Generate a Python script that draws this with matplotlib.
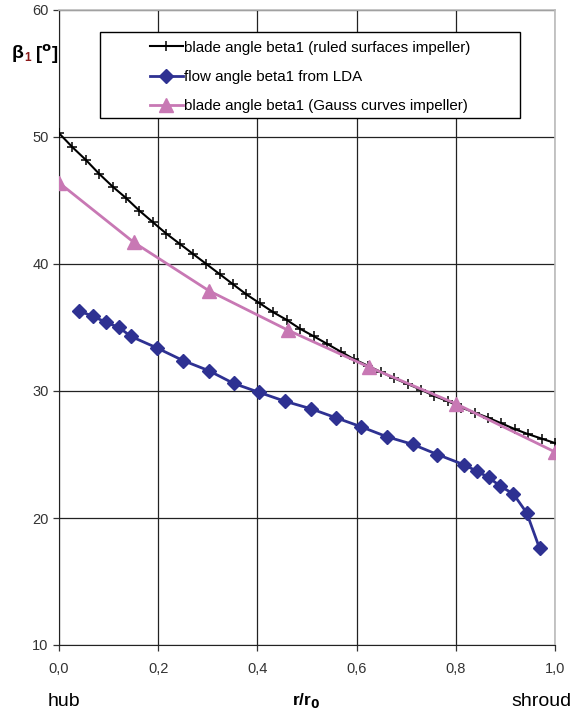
import matplotlib
matplotlib.use("Agg")
import matplotlib.pyplot as plt
from matplotlib.patches import Rectangle
from matplotlib.ticker import FuncFormatter

plt.rcParams['font.family'] = ['Liberation Sans', 'DejaVu Sans']

# ---- data ----
ruled_x = [0.000, 0.027, 0.054, 0.081, 0.108, 0.135, 0.162, 0.189, 0.216, 0.243,
           0.270, 0.297, 0.324, 0.351, 0.378, 0.405, 0.432, 0.459, 0.486, 0.514,
           0.541, 0.568, 0.595, 0.622, 0.649, 0.676, 0.703, 0.730, 0.757, 0.784,
           0.811, 0.838, 0.865, 0.892, 0.919, 0.946, 0.973, 1.000]
ruled_y = [50.3, 49.2, 48.2, 47.1, 46.1, 45.2, 44.2, 43.3, 42.4, 41.6,
           40.8, 40.0, 39.2, 38.4, 37.6, 36.9, 36.2, 35.6, 34.9, 34.3,
           33.7, 33.1, 32.5, 32.0, 31.5, 31.0, 30.55, 30.1, 29.6, 29.2,
           28.7, 28.3, 27.9, 27.45, 27.0, 26.6, 26.25, 25.9]

lda_x = [0.040, 0.068, 0.095, 0.121, 0.145, 0.197, 0.250, 0.302, 0.352, 0.403,
         0.455, 0.508, 0.558, 0.608, 0.661, 0.713, 0.763, 0.816, 0.842, 0.866,
         0.890, 0.916, 0.943, 0.969]
lda_y = [36.3, 35.9, 35.4, 35.0, 34.3, 33.4, 32.4, 31.6, 30.6, 29.9,
         29.2, 28.6, 27.9, 27.2, 26.4, 25.8, 25.0, 24.2, 23.7, 23.2,
         22.5, 21.9, 20.4, 17.6]

gauss_x = [0.000, 0.151, 0.302, 0.461, 0.624, 0.800, 1.000]
gauss_y = [46.4, 41.7, 37.9, 34.8, 31.9, 29.0, 25.2]

labels = ["blade angle beta1 (ruled surfaces impeller)",
          "flow angle beta1 from LDA",
          "blade angle beta1 (Gauss curves impeller)"]
x_ticks = [0.0, 0.2, 0.4, 0.6, 0.8, 1.0]
y_ticks = [10, 20, 30, 40, 50, 60]

# ---- figure ----
fig = plt.figure(figsize=(5.75, 7.17), dpi=100)
ax = fig.add_axes([59/575, 1-645/717, 496/575, 635/717])

ax.plot(ruled_x, ruled_y, color='black', lw=1.5, marker='+', ms=6.5, mew=1.1,
        label=labels[0], zorder=3)
ax.plot(lda_x, lda_y, color='#2E3192', lw=2, marker='D', ms=7,
        label=labels[1], zorder=4)
ax.plot(gauss_x, gauss_y, color='#C878B4', lw=2, marker='^', ms=10,
        label=labels[2], zorder=3.5)

ax.set_xlim(0, 1.0)
ax.set_ylim(10, 60)
ax.set_xticks(x_ticks)
ax.set_yticks(y_ticks)
ax.xaxis.set_major_formatter(FuncFormatter(lambda v, p: f"{v:.1f}".replace('.', ',')))
ax.grid(True, color='#222222', lw=0.9)
ax.set_axisbelow(True)
ax.tick_params(direction='out', length=4, width=0.9, labelsize=10.5,
               labelcolor='#333333', color='#333333')
ax.tick_params(axis='x', pad=8)
for s in ['left', 'bottom']:
    ax.spines[s].set_color('#222222')
for s in ['top', 'right']:
    ax.spines[s].set_color('#bbbbbb')
    ax.spines[s].set_linewidth(1.2)

# legend box
ax.add_patch(Rectangle((100/496 - 59/496, 1 - 118/635 + 10/635), 420/496, 86/635,
                       transform=ax.transAxes, facecolor='white',
                       edgecolor='black', lw=1, zorder=5))
leg = ax.legend(loc='upper left', bbox_to_anchor=(0.155, 0.973), frameon=False,
                fontsize=10.9, handlelength=2.2, labelspacing=1.0,
                handletextpad=0.1)
leg.set_zorder(6)

# y label: beta with dark red subscript
fig.text(12/575, 1-54/717, "β", fontsize=14, fontweight='bold',
         va='center', ha='left')
fig.text(24/575, 1-58/717, "1", fontsize=8.5, fontweight='bold', color='#8B1A1A',
         va='center', ha='left')
fig.text(35/575, 1-54/717, r"[$^\mathbf{o}$]", fontsize=13.5, fontweight='bold',
         va='center', ha='left')

fig.text(48/575, 1-701/717, "hub", fontsize=14, va='center', ha='left')
fig.text(306/575, 1-701/717, r"r/r$_\mathbf{0}$", fontsize=12.5, fontweight='bold',
         va='center', ha='center')
fig.text(572/575, 1-701/717, "shroud", fontsize=14, va='center', ha='right')

fig.savefig("out.png", dpi=100)
